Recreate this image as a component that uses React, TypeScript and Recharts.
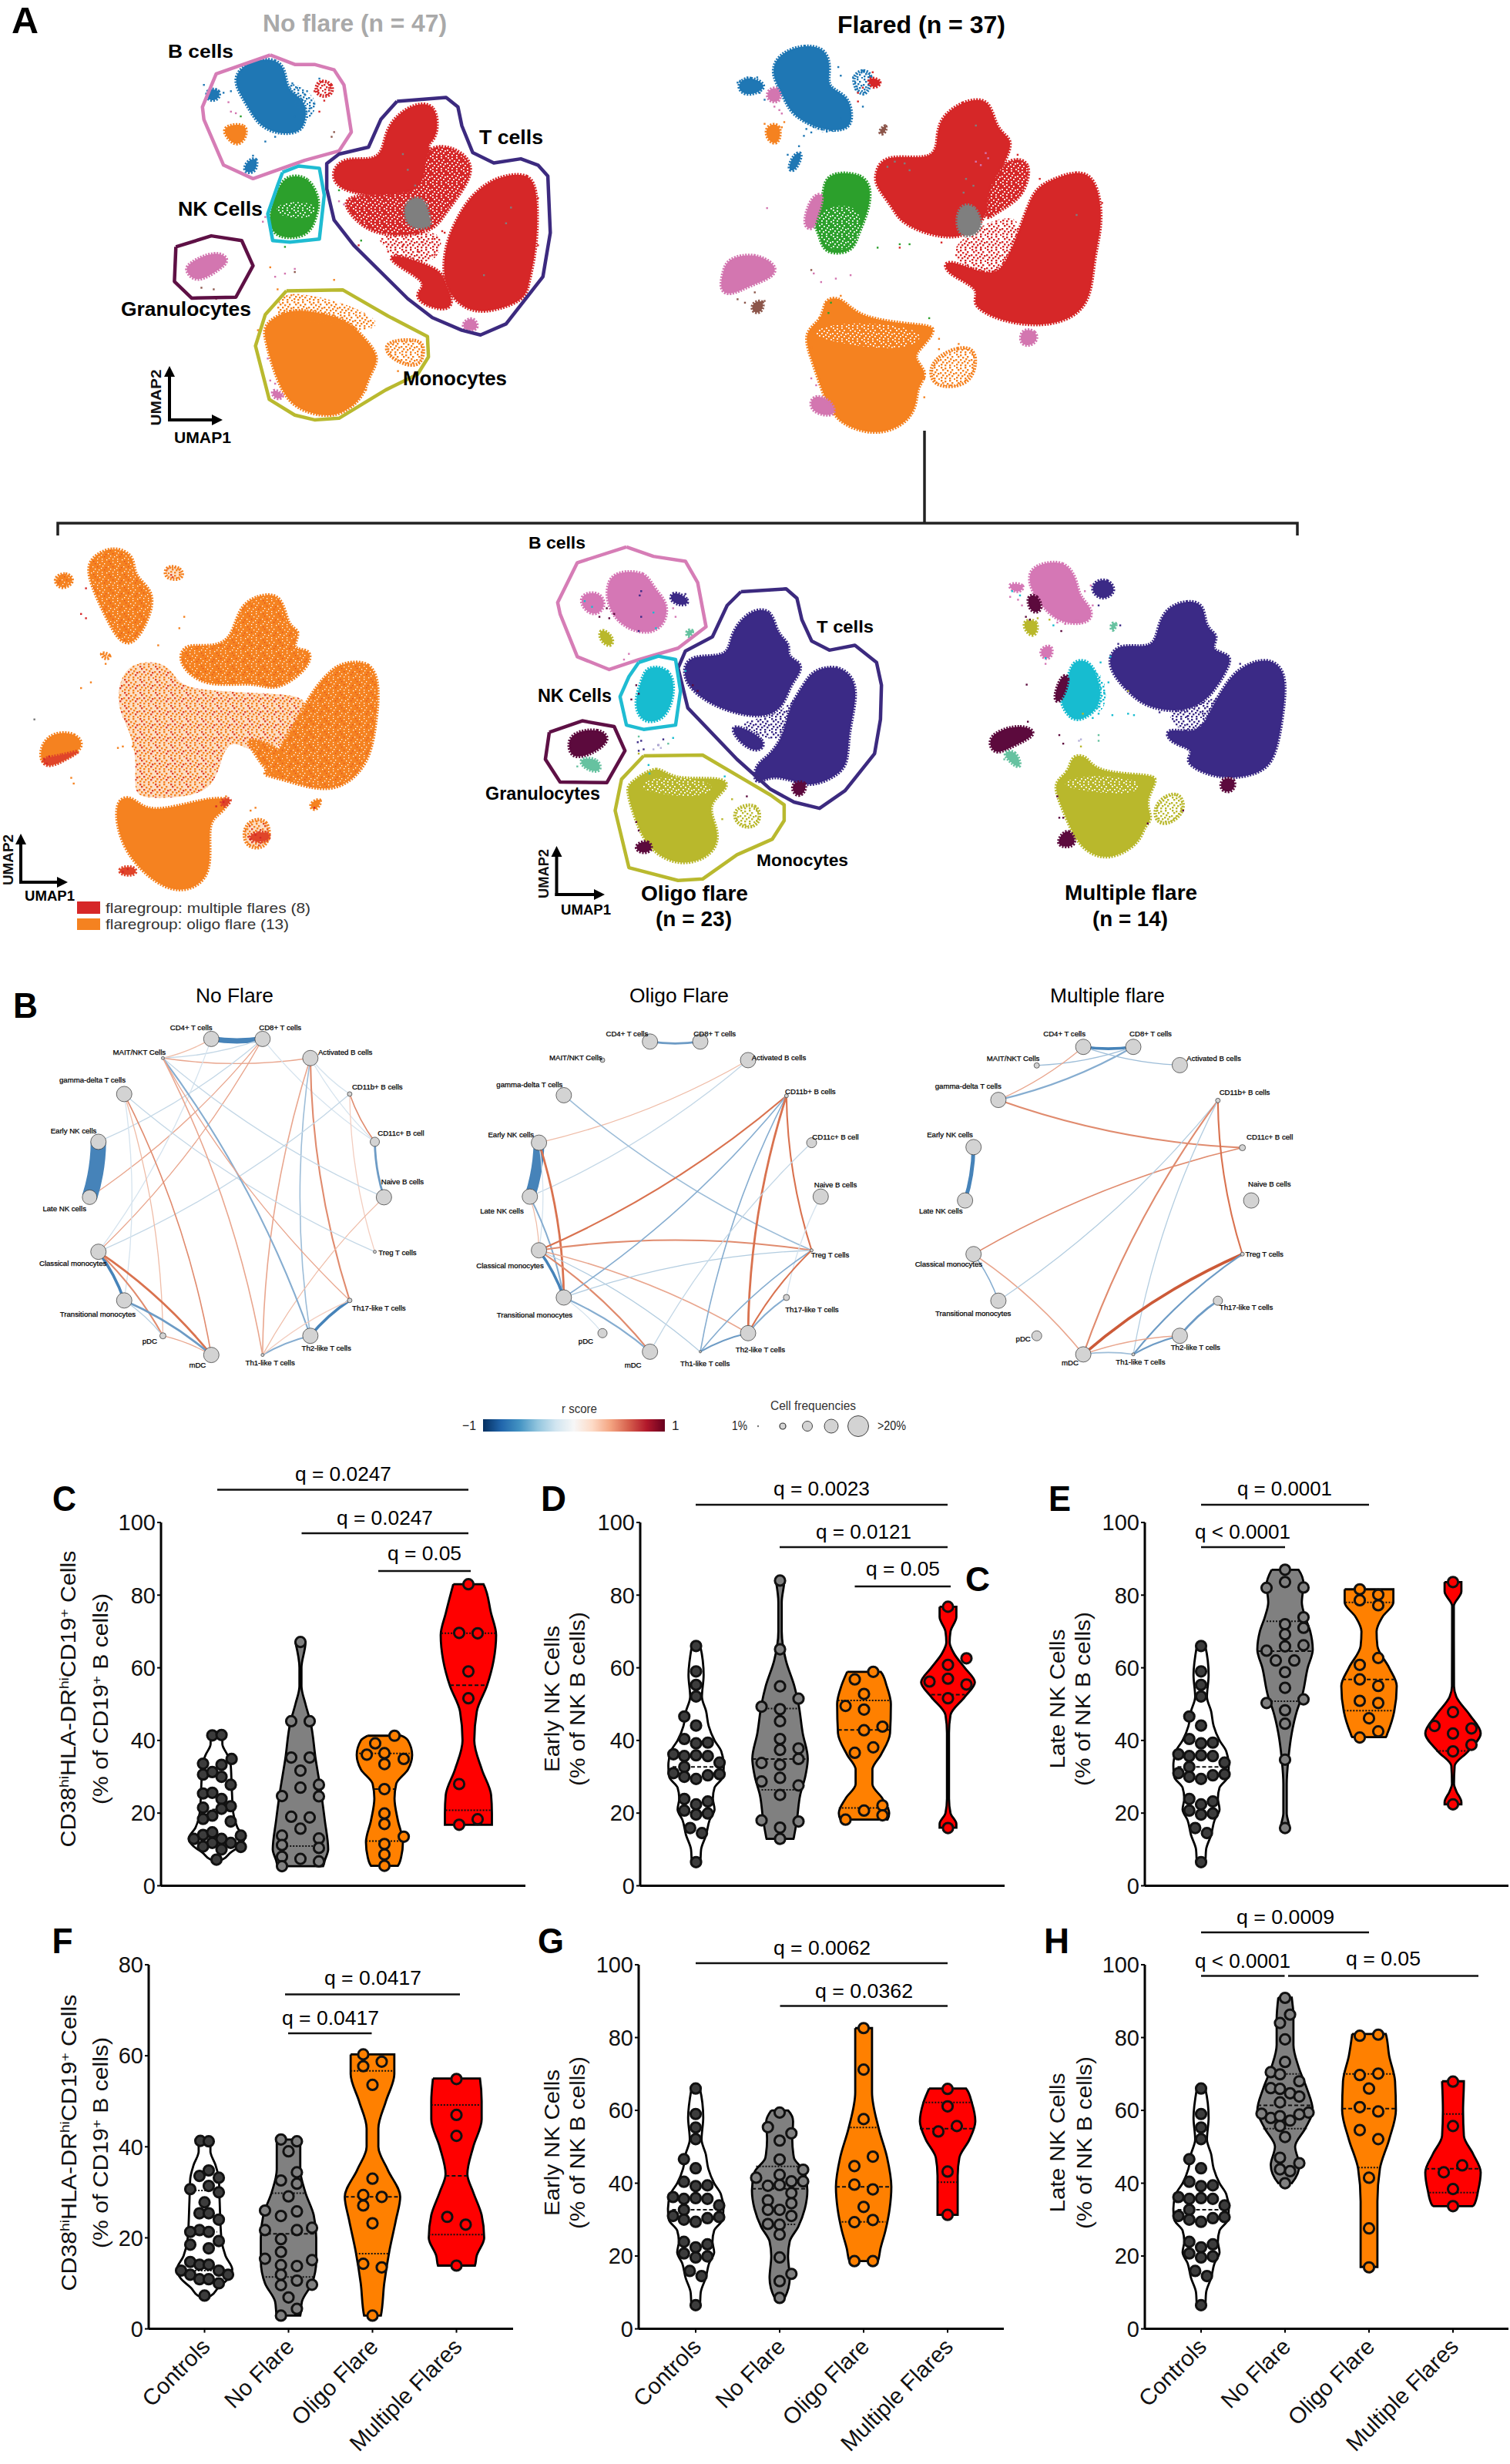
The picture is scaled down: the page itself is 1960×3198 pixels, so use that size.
import React from "react";
import { ScatterChart, Scatter, XAxis, YAxis } from "recharts";

const FONT = "'Liberation Sans', Arial, sans-serif";
const C_BLUE = "#1f77b4", C_RED = "#d62728", C_ORANGE = "#f58220", C_GREEN = "#2ca02c", C_PINK = "#d376b0", C_GRAY = "#7f7f7f", C_BROWN = "#8c564b";
const M_PINK = "#d577b5", M_NAVY = "#3b2a86", M_CYAN = "#17bcd0", M_OLIVE = "#b9b82c", M_MAROON = "#5c0a3d", M_TEAL = "#66c2a0", M_LAV = "#b5b0d8";

// ---------- UMAP clusters, in UMAP plot units ----------
const hullB1 = [[550,175],[600,205],[640,205],[680,222],[700,270],[715,420],[690,480],[620,510],[515,568],[455,525],[415,380],[412,340],[440,235]];
const hullT1 = [[808,322],[908,310],[932,340],[940,400],[962,485],[1005,518],[1060,505],[1095,525],[1115,560],[1120,740],[1105,880],[1060,970],[1030,1030],[978,1065],[940,1050],[880,1010],[830,950],[720,780],[680,700],[665,600],[665,520],[690,490],[750,468],[775,380]];
const hullNK1 = [[575,548],[608,528],[650,535],[660,620],[655,690],[650,760],[590,770],[555,765],[545,680],[565,590]];
const hullG1 = [[358,785],[430,750],[492,765],[515,845],[480,945],[390,948],[355,895]];
const hullM1 = [[583,925],[698,922],[790,1005],[870,1070],[872,1135],[850,1190],[785,1240],[690,1330],[640,1335],[600,1320],[548,1270],[520,1100],[540,1000]];
const a1Blue = [[510,190],[565,185],[582,230],[584,290],[625,320],[622,395],[605,425],[560,425],[525,395],[505,340],[485,290],[475,240]];
const a1BlueL = [[420,280],[450,285],[445,320],[420,320]];
const a1BlueSp = [[580,250],[625,285],[650,330],[625,400],[600,340]];
const a1RedS = [[645,250],[680,265],[675,310],[640,305]];
const a1OrS = [[452,400],[505,390],[500,445],[480,465],[460,435]];
const a1Tail = [[500,515],[525,495],[522,550],[495,550]];
const a1Green = [[580,555],[630,560],[652,640],[645,680],[630,755],[560,760],[545,700],[560,620]];
const a1GreenSp = [[560,640],[650,640],[640,700],[560,690]];
const a1Gran = [[380,838],[440,795],[470,825],[445,860],[400,900],[378,865]];
const a1RedUp = [[835,330],[890,325],[892,440],[865,460],[885,500],[875,605],[800,625],[700,615],[670,560],[695,500],[750,510],[780,490],[785,400]];
const a1RedSp = [[860,460],[925,465],[965,520],[950,590],[905,680],[885,730],[830,750],[760,745],[715,690],[690,620],[800,620],[870,600]];
const a1RedGap = [[760,745],[880,730],[905,760],[885,850],[800,815],[780,780]];
const a1Gray = [[820,635],[865,620],[875,700],[880,725],[825,730]];
const a1RedBig = [[1015,560],[1080,547],[1095,620],[1093,790],[1075,905],[1070,955],[985,1000],[935,975],[900,900],[905,770],[945,650],[975,600]];
const a1RedLow = [[790,800],[900,855],[905,900],[925,965],[905,990],[855,965],[845,930],[875,900],[795,835]];
const a1PinkT = [[940,1025],[965,1005],[977,1050],[945,1053]];
const a1Or = [[535,1030],[590,980],[650,995],[705,1015],[745,1080],[775,1140],[750,1195],[740,1265],[690,1325],[640,1320],[585,1285],[555,1170],[540,1080]];
const a1OrUp = [[570,930],[620,935],[685,955],[785,1020],[745,1065],[620,1015],[555,1015]];
const a1OrR = [[775,1085],[855,1075],[865,1110],[855,1175],[795,1145]];
const a1PinkLow = [[550,1230],[585,1260],[558,1275]];

const a2Blue = [[185,150],[225,130],[270,140],[280,200],[270,255],[315,275],[325,340],[315,380],[260,380],[200,335],[185,285],[160,220],[165,180]];
const a2BlueL = [[90,240],[115,220],[155,250],[120,278],[95,270]];
const a2BlueR = [[335,200],[370,210],[350,295],[320,240]];
const a2BlueSp = [[315,375],[260,395],[225,350],[205,335]];
const a2RedS = [[350,220],[390,235],[365,265]];
const a2PinkS = [[150,260],[175,250],[180,300],[150,295]];
const a2OrS = [[145,365],[180,355],[175,425],[150,410]];
const a2Tail = [[205,445],[225,440],[208,500],[190,495]];
const a2Brown = [[374,385],[396,355],[389,395]];
const a2Green = [[285,500],[345,505],[363,550],[355,620],[335,680],[325,735],[265,740],[257,680],[240,640],[265,580],[265,530]];
const a2GreenSp = [[262,600],[350,590],[335,730],[265,730],[250,650]];
const a2PinkThin = [[240,565],[270,560],[250,635],[245,670],[220,660]];
const a2Gran = [[70,750],[125,735],[170,770],[165,805],[115,830],[75,860],[53,845],[60,790]];
const a2BrownS = [[118,880],[145,870],[140,910],[120,910]];
const a2RedUp = [[505,340],[545,295],[605,280],[615,380],[655,405],[630,480],[605,560],[595,640],[550,695],[480,685],[420,645],[405,600],[370,540],[370,500],[390,445],[495,470],[495,390]];
const a2RedSp = [[645,455],[690,470],[675,560],[645,595],[610,625],[590,645],[605,520]];
const a2RedGap = [[600,640],[680,620],[640,780],[600,810],[520,750],[540,700]];
const a2Gray = [[535,595],[575,590],[595,675],[535,700]];
const a2RedBig = [[725,525],[780,495],[820,515],[835,640],[815,750],[810,865],[775,925],[710,950],[625,935],[560,885],[590,840],[510,795],[510,745],[600,805],[635,780],[675,620],[695,550]];
const a2PinkT = [[665,955],[700,960],[700,1000],[665,1010]];
const a2Or = [[220,965],[265,930],[265,865],[305,865],[335,925],[460,945],[500,950],[465,1010],[445,1040],[480,1085],[455,1125],[455,1175],[435,1230],[380,1265],[315,1245],[275,1195],[245,1060]];
const a2OrTop = [[225,970],[300,930],[490,955],[440,1025],[300,1000]];
const a2OrR = [[485,1045],[540,1005],[580,1015],[570,1115],[510,1130],[480,1105]];
const a2PinkLow = [[240,1145],[280,1160],[295,1215],[235,1200]];

const lfB = [[185,170],[230,130],[275,165],[270,235],[315,290],[305,380],[275,475],[245,475],[215,380],[175,230]];
const lfBL = [[105,245],[135,220],[155,255],[125,290]];
const lfBR = [[335,200],[370,205],[375,250],[335,250]];
const lfBS = [[200,500],[230,515],[215,535]];
const lfTUp = [[485,350],[520,305],[575,295],[585,420],[615,425],[590,500],[635,490],[630,560],[560,645],[520,605],[415,630],[360,540],[375,475],[420,485],[470,470]];
const lfTBig = [[700,540],[755,535],[773,620],[765,760],[750,905],[680,1005],[585,955],[540,935],[535,930],[590,790],[635,640],[675,565]];
const lfTLow = [[490,790],[590,850],[580,950],[540,920],[520,860]];
const lfGran = [[105,785],[155,785],[175,840],[125,885],[85,910],[80,840]];
const lfMono = [[230,1020],[270,1005],[300,1075],[420,1015],[475,1015],[450,1070],[420,1100],[435,1285],[380,1350],[320,1325],[245,1195]];
const lfMid = [[250,535],[345,535],[360,620],[420,640],[560,650],[640,660],[600,800],[530,880],[470,800],[450,880],[430,1010],[300,1020],[270,1000],[280,880],[260,760],[235,690]];
const lfRight = [[495,1095],[550,1080],[550,1195],[495,1195]];
const lfSmall = [[625,1035],[660,1010],[642,1070]];
const lfRed1 = [[240,1260],[275,1253],[280,1287],[245,1287]];
const lfRed2 = [[505,1140],[550,1130],[550,1170],[510,1170]];
const lfRed3 = [[445,1020],[477,1013],[455,1058]];
const lfRed4 = [[80,875],[125,868],[175,840],[125,890],[95,910]];

const hullBm = [[1275,135],[1330,168],[1395,185],[1420,260],[1437,415],[1380,490],[1300,530],[1240,565],[1175,520],[1140,370],[1135,330],[1175,190]];
const hullNKm = [[1300,540],[1340,518],[1375,530],[1385,640],[1375,760],[1310,775],[1275,760],[1262,660],[1280,590]];
const hullGm = [[1118,785],[1185,745],[1250,765],[1272,850],[1235,962],[1140,960],[1110,880]];
const hullMm = [[1310,868],[1430,865],[1568,1005],[1596,1040],[1596,1095],[1572,1160],[1500,1215],[1430,1300],[1380,1305],[1280,1260],[1252,1060],[1265,950]];
const hullTm = [[1508,292],[1600,282],[1622,315],[1632,390],[1652,465],[1688,497],[1740,480],[1784,540],[1794,620],[1792,740],[1780,860],[1720,990],[1668,1052],[1616,1030],[1568,985],[1500,880],[1400,700],[1380,560],[1395,500],[1450,450],[1480,340]];
const mPink = [[1255,220],[1315,220],[1330,280],[1360,330],[1355,405],[1320,445],[1265,415],[1235,340],[1235,260]];
const mPinkL = [[1180,300],[1220,290],[1235,340],[1212,380],[1185,350]];
const mNavyS = [[1370,285],[1405,320],[1395,345],[1360,325]];
const mOliveS = [[1220,415],[1250,450],[1245,490],[1220,465]];
const mTealS = [[1395,425],[1415,425],[1400,460]];
const mCyan = [[1315,550],[1365,560],[1375,640],[1355,745],[1305,755],[1290,680],[1305,610]];
const mGran = [[1165,785],[1220,770],[1245,810],[1208,860],[1165,880],[1155,830]];
const mTeal2 = [[1175,875],[1220,875],[1225,930],[1190,915]];
const mOlive = [[1285,960],[1340,895],[1365,955],[1475,940],[1485,980],[1435,1040],[1465,1130],[1455,1215],[1385,1260],[1315,1195],[1285,1050],[1275,980]];
const mOliveTop = [[1290,980],[1340,930],[1470,960],[1430,1020],[1340,1000]];
const mOliveR = [[1485,1055],[1545,1025],[1550,1115],[1505,1125]];
const mMaroonS = [[1290,1180],[1322,1160],[1330,1205],[1300,1210]];
const mNavyUp = [[1525,355],[1572,350],[1580,440],[1610,475],[1600,520],[1632,540],[1628,580],[1608,620],[1596,690],[1560,740],[1470,710],[1405,640],[1388,570],[1405,510],[1485,525],[1485,440]];
const mNavyBig = [[1655,565],[1705,550],[1736,590],[1745,660],[1725,800],[1727,905],[1690,950],[1648,975],[1615,955],[1568,935],[1535,975],[1535,900],[1565,870],[1595,800],[1605,700],[1635,620]];
const mNavyTail = [[1485,745],[1568,815],[1540,865],[1495,805]];
const mNavyGap = [[1560,735],[1600,700],[1640,620],[1610,700],[1600,800],[1568,820],[1490,750]];
const mNavySpot = [[1610,960],[1645,955],[1635,1010],[1615,1005]];

const a4Pink = [[675,195],[750,180],[780,250],[785,310],[820,350],[815,405],[740,405],[695,350],[665,290],[655,235]];
const a4PinkL = [[595,260],[655,265],[628,305]];
const a4Maroon = [[650,305],[680,300],[695,360],[662,370]];
const a4NavyS = [[825,255],[858,245],[883,290],[845,325],[815,290]];
const a4OliveS = [[640,390],[685,390],[675,455],[650,435]];
const a4TealS = [[865,400],[885,400],[868,440]];
const a4PinkTail = [[685,490],[720,475],[715,530],[690,525]];
const a4Cyan = [[765,530],[815,530],[840,620],[840,690],[805,735],[765,750],[730,665],[755,620]];
const a4CyanSp = [[810,535],[855,600],[855,700],[820,735]];
const a4MarThin = [[740,580],[765,585],[740,685],[717,675]];
const a4Gran = [[565,785],[640,755],[685,790],[622,830],[575,865],[555,830]];
const a4Teal = [[585,855],[625,845],[640,910],[622,905]];
const a4NavyUp = [[1005,350],[1060,320],[1105,335],[1105,420],[1145,445],[1115,500],[1175,510],[1165,560],[1125,650],[1085,695],[1030,715],[955,695],[915,650],[875,590],[857,530],[885,470],[975,495],[985,420]];
const a4NavyBig = [[1195,555],[1265,520],[1315,570],[1305,720],[1285,880],[1245,930],[1170,950],[1100,930],[1050,885],[1085,845],[1015,825],[1000,765],[1090,795],[1115,720],[1155,620]];
const a4NavyGap = [[1010,700],[1090,690],[1160,640],[1100,780],[1080,800],[1020,760]];
const a4MarSpot = [[1145,945],[1185,945],[1180,995],[1145,995]];
const a4Olive = [[715,960],[760,930],[765,865],[805,865],[825,925],[960,935],[990,945],[950,1030],[975,1090],[950,1115],[940,1175],[860,1240],[785,1195],[745,1060]];
const a4OliveTop = [[730,970],[790,930],[960,950],[930,1010],[790,990]];
const a4OliveR = [[980,1025],[1040,985],[1060,1060],[1010,1115],[975,1095]];
const a4MarLow = [[730,1160],[760,1115],[785,1185],[735,1190]];

const a1Stray: [string, number[][]][] = [
  [C_BLUE, [[415,270],[432,300],[422,305],[440,285],[455,295],[470,290],[595,265],[605,280],[625,290],[640,330],[630,345],[560,435],[540,450],[515,495],[510,530],[600,370],[650,250],[620,300]]],
  [C_RED, [[640,290],[655,260],[670,280],[660,320],[650,355],[730,780],[790,800],[820,780],[860,770],[900,735],[880,760],[930,720],[1095,630],[1090,700],[1095,780],[810,830],[850,800],[885,810],[905,740]]],
  [C_PINK, [[465,325],[470,355],[480,360],[690,640],[700,650],[540,690],[535,705],[600,855],[560,880],[580,870],[545,1140],[550,1210],[560,1220]]],
  [C_BROWN, [[680,420],[675,435],[440,950],[410,915],[435,920],[600,865]]],
  [C_GREEN, [[735,765],[580,785],[590,770],[690,605],[490,370]]],
  [C_ORANGE, [[680,890],[550,850],[565,920],[525,1050],[810,1180],[745,1240]]],
  [C_GRAY, [[820,490],[830,540],[845,590],[870,650],[1030,710],[985,875],[1040,660]]],
];
const a2Stray: [string, number[][]][] = [
  [C_BLUE, [[95,235],[110,225],[130,225],[90,240],[135,270],[145,290],[295,195],[300,220],[325,225],[345,205],[330,260],[345,310],[230,375],[240,385],[225,395],[300,345],[215,425],[192,450]]],
  [C_RED, [[365,210],[378,245],[335,270],[335,295],[345,255],[420,720],[505,705],[585,725],[575,720],[660,450],[705,520],[832,590],[825,680]]],
  [C_PINK, [[165,310],[175,320],[180,330],[150,605],[245,795],[260,820],[290,810],[320,800],[240,1100],[250,1120],[595,445],[585,480],[600,460],[575,470]]],
  [C_BROWN, [[90,870],[105,880],[125,850],[145,875],[240,785]]],
  [C_GREEN, [[375,720],[420,710],[440,710],[480,925],[280,880],[275,910]]],
  [C_ORANGE, [[145,360],[185,355],[165,375],[180,370],[240,1010],[270,880],[300,860],[470,1100],[470,1155],[540,1000],[500,985],[500,1015]]],
  [C_GRAY, [[410,470],[395,485],[440,495],[430,475],[555,520],[570,540],[550,560],[575,365],[780,625]]],
];
const lfStray: [string, number[][]][] = [
  [C_ORANGE, [[165,630],[185,610],[375,380],[365,420],[322,480],[215,545],[150,965],[145,945],[240,840],[250,835],[270,835],[460,1010],[520,1050],[510,1060]]],
  [C_RED, [[175,280],[165,370],[175,385],[260,1265],[250,1275],[520,1145],[530,1155],[510,1160],[455,1030],[440,1045],[640,1050],[90,880],[95,895],[100,870]]],
  ["#777777", [[70,740]]],
];
const mStray: [string, number[][]][] = [
  [M_PINK, [[1280,510],[1270,530],[1195,330],[1370,350],[1375,380]]],
  [M_NAVY, [[1298,820],[1305,815],[1340,830],[1350,810],[1300,850],[1310,845],[1305,290],[1302,305],[1305,380],[1300,430],[1395,300]]],
  [M_CYAN, [[1190,325],[1205,345],[1330,365],[1370,805],[1320,900],[1322,930],[1395,570],[1475,940],[1335,420]]],
  [M_MAROON, [[1235,350],[1250,370],[1220,380],[1240,385],[1295,620],[1300,650],[1285,670],[1295,1100],[1300,1130],[1520,1010],[1410,620],[1420,640]]],
  [M_LAV, [[1340,830],[1345,840],[1330,845]]],
  [M_OLIVE, [[1300,860],[1460,960],[1490,1020],[1470,1090]]],
  [M_TEAL, [[1300,800],[1360,825],[1175,905]]],
];
const a4Stray: [string, number[][]][] = [
  [M_PINK, [[610,310],[630,320],[640,340],[800,290],[815,270],[820,340],[730,400],[750,405],[780,395],[700,545]]],
  [M_NAVY, [[890,410],[850,310],[835,340],[1195,545],[885,475],[990,715],[1060,730],[1100,720]]],
  [M_CYAN, [[720,410],[615,290],[635,305],[840,540],[860,610],[850,650],[870,725],[910,720],[925,725],[820,735],[700,525],[865,520],[835,720]]],
  [M_MAROON, [[650,380],[660,390],[740,430],[652,618],[730,1010],[735,1085],[745,1085],[960,1105],[1050,1060],[735,795],[745,825],[655,748]]],
  [M_OLIVE, [[710,390],[680,385],[795,720],[790,835],[910,640]]],
  [M_TEAL, [[835,795],[835,815],[595,880]]],
  [M_LAV, [[790,810],[785,815]]],
];

// ---------- correlation networks ----------
const nodeNames = ["CD4+ T cells","CD8+ T cells","Activated B cells","CD11b+ B cells","CD11c+ B cell","Naive B cells","Treg T cells","Th17-like T cells","Th2-like T cells","Th1-like T cells","mDC","pDC","Transitional monocytes","Classical monocytes","Late NK cells","Early NK cells","gamma-delta T cells","MAIT/NKT Cells"];
const noFlareX = [672,835,987,1112,1192,1221,1192,1112,987,835,672,518,395,313,285,313,395,518];
const noFlareY = [231,231,296,418,580,768,953,1118,1238,1303,1303,1238,1118,953,768,580,418,296];
const noFlareFreq = [10,10,10,3,6,10,2,3,10,2,10,4,10,10,9.5,10,10,2];
const noFlareLabelX = [608,891,1098,1200,1275,1280,1264,1205,1038,859,628,476,311,232,205,234,294,443];
const noFlareLabelY = [191,191,277,394,549,715,956,1144,1280,1330,1338,1255,1163,992,805,541,371,276];
const oligoX = [695,855,1007,1129,1209,1238,1209,1129,1007,855,695,544,421,342,313,342,421,544];
const oligoY = [240,240,303,424,583,766,948,1108,1229,1292,1292,1229,1108,948,766,583,422,303];
const oligoFreq = [10,10,10,2.5,6.5,10,2,4,10,1.5,10,6,10,10,10,10,10,3];
const oligoLabelX = [622,901,1105,1205,1285,1285,1268,1210,1046,870,641,491,328,250,224,253,312,459];
const oligoLabelY = [212,212,294,409,563,725,963,1148,1284,1331,1337,1255,1166,999,814,555,386,294];
const multiX = [603,762,910,1031,1109,1137,1109,1031,910,762,603,455,333,254,227,254,333,455];
const multiY = [258,258,320,440,600,779,961,1119,1238,1301,1301,1238,1119,961,779,598,438,321];
const multiFreq = [10,10,10,3,4,10,2.5,6,10,2,10,6.5,10,10,10,10,10,3.5];
const multiLabelX = [543,817,1018,1116,1196,1195,1179,1121,960,785,561,412,253,175,150,179,237,380];
const multiLabelY = [214,214,296,411,563,723,960,1142,1277,1325,1330,1248,1162,995,813,555,390,296];

// [node a, node b, r score]
const noFlareEdges = [[0,1,-.85],[0,17,.3],[1,17,-.25],[17,2,.35],[1,15,-.25],[1,14,.35],[1,13,.35],[0,13,-.2],[1,4,-.2],[2,3,-.2],[2,4,-.2],[2,9,.4],[2,8,-.4],[2,7,.5],[3,4,.45],[3,6,.25],[3,13,-.25],[4,5,-.6],[5,17,-.25],[5,9,.3],[16,6,-.25],[16,12,-.2],[16,11,.3],[16,10,.45],[17,8,-.5],[17,9,.4],[17,7,.35],[7,8,-.7],[8,9,-.5],[7,9,.25],[15,14,-.95],[13,12,-.7],[13,10,.6],[13,11,.5],[12,10,-.6],[12,11,-.3],[11,10,.35]];
const oligoEdges = [[0,1,-.6],[2,15,.3],[2,14,-.25],[16,6,-.4],[15,14,-.9],[15,13,-.2],[15,12,.6],[14,13,.3],[14,12,-.5],[13,12,-.7],[13,3,.55],[13,6,.5],[13,8,.4],[13,10,.5],[13,9,-.3],[12,3,-.45],[12,6,-.3],[12,10,-.5],[12,11,-.2],[3,9,-.45],[3,8,.6],[3,6,.55],[4,10,-.25],[5,7,-.2],[6,9,-.45],[6,8,.55],[7,8,-.5],[8,9,-.55]];
const multiEdges = [[0,1,-.7],[17,1,-.35],[16,0,.35],[16,1,-.5],[0,2,-.35],[16,4,.5],[13,4,.45],[15,14,-.75],[13,12,-.45],[13,10,.4],[12,3,-.3],[10,3,.5],[3,9,-.3],[3,6,.55],[10,6,.7],[9,6,-.55],[10,8,.4],[10,9,-.4],[9,8,-.55],[8,7,-.6]];
const colorbarStops = ["#053061","#2166ac","#4393c3","#92c5de","#d1e5f0","#f7f7f7","#fddbc7","#f4a582","#d6604d","#b2182b","#67001f"];

// ---------- violins: points are [offset from category, value], profiles are [value, half width] ----------
const categories = ["Controls","No Flare","Oligo Flare","Multiple Flares"];
const fillControls = "#ffffff", fillNoFlare = "#808080", fillOligo = "#ff8000", fillMulti = "#ff0000";
const dotControls = "#3c3c3c", dotNoFlare = "#808080", dotOligo = "#ff8000", dotMulti = "#ff0000";

const cControls = [[-.05,41.4],[.06,41.5],[.18,34.9],[-.16,33.6],[.06,33.3],[-.16,30.6],[-.05,31.3],[.06,30],[.17,27.8],[-.16,25.4],[-.05,25.6],[.06,23.9],[-.16,21.5],[.17,21.9],[.06,21.2],[-.05,19.3],[-.16,18.4],[.17,17.7],[-.16,14],[-.05,14.7],[.29,13.8],[-.27,12.9],[.06,12.9],[-.05,11.8],[.17,11.8],[-.16,10.8],[.29,10.7],[.06,10],[0,7.2]];
const cControlsShape = [[41.5,.07],[39,.07],[36,.13],[33,.17],[28,.18],[20,.2],[16,.25],[13,.33],[11,.28],[9,.16],[7.2,.07]];
const cNoFlare = [[0,67.1],[-.11,45.3],[.11,45.3],[-.11,35.3],[.11,35.3],[0,31.7],[0,27],[.22,27.8],[-.22,24.7],[.22,24.6],[-.11,19],[.11,18.8],[0,15.7],[-.22,13.8],[.22,13],[-.22,11.2],[.22,10.4],[-.22,8],[0,7.4],[.22,6.7],[-.22,5.4]];
const cNoFlareShape = [[67,.06],[60,.012],[55,.012],[50,.06],[45,.12],[35,.18],[25,.25],[18,.29],[10,.33],[7,.29],[5.4,.27]];
const cOligo = [[.12,41.3],[-.11,39.2],[-.21,36.1],[0,36.5],[.23,34.9],[0,33.5],[0,26.6],[0,19.9],[0,17],[.23,13.5],[0,11.5],[0,8.6],[0,5.5]];
const cOligoShape = [[41.3,.2],[40,.28],[36,.33],[32,.28],[28,.14],[24,.12],[18,.16],[12,.22],[8,.2],[5.5,.16]];
const cMulti = [[0,83],[-.11,69.6],[.11,69.5],[0,59],[0,51.6],[-.11,28],[.11,18.3],[-.11,16.8]];
const cMultiShape = [[83,.18],[75,.27],[69,.33],[62,.3],[55,.22],[48,.1],[40,.07],[32,.16],[25,.27],[20,.28],[16.8,.28]];

const nkControls = [[0,66],[0,59],[0,55.3],[0,52.1],[-.14,46.6],[0,44.1],[-.14,40.4],[.14,39.4],[0,39.2],[-.27,36.2],[-.14,35.7],[0,35.9],[.14,35.7],[.28,33.9],[-.14,32.7],[-.27,31],[.28,30.7],[-.14,30],[.14,30.4],[0,29.4],[-.14,23.9],[.14,23.2],[0,22.4],[-.14,20.7],[0,19.6],[.14,19.9],[-.07,15.9],[.07,14.5],[0,6.5]];
const nkControlsShape = [[66,.05],[58,.09],[52,.07],[48,.12],[44,.15],[40,.22],[37,.3],[33,.33],[30,.32],[27,.22],[24,.2],[21,.22],[18,.16],[14,.12],[10,.06],[6.5,.05]];
const dNoFlare = [[0,84],[0,65.1],[0,54.9],[.22,51.5],[-.22,49.3],[0,48.6],[0,45.3],[0,40.4],[.22,37.8],[0,37.4],[.22,34.9],[-.22,33.8],[0,33.3],[0,29.7],[-.22,28.7],[.22,27.6],[0,25],[-.22,18],[.22,17.7],[0,16],[0,12.9]];
const dNoFlareShape = [[84,.05],[78,.02],[70,.02],[62,.07],[55,.17],[50,.22],[42,.27],[35,.33],[30,.3],[25,.24],[18,.2],[14,.17],[12.9,.16]];
const dOligo = [[.11,58.9],[-.11,56.8],[0,52.8],[-.22,49.5],[0,48.5],[.22,43.8],[0,42.8],[.11,38.1],[-.11,36.6],[.22,22.1],[0,20.7],[.22,19.4],[-.22,18.2]];
const dOligoShape = [[58.9,.2],[55,.27],[50,.32],[42,.31],[36,.2],[32,.1],[28,.1],[24,.22],[20,.3],[18.2,.28]];
const dMulti = [[0,76.8],[.22,62.6],[0,60.8],[0,57],[-.22,56.2],[.22,55.4],[0,51.6],[0,15.9]];
const dMultiShape = [[76.8,.1],[74,.1],[70,.03],[67,.02],[64,.07],[60,.2],[56,.32],[52,.2],[47,.03],[42,.012],[24,.012],[20,.03],[17,.1],[16,.1]];

const eNoFlare = [[0,87],[0,83.6],[-.22,82],[.22,82.1],[.22,73.9],[0,72],[.22,71],[0,69.2],[.22,66.2],[0,65.9],[-.22,64.7],[-.11,62],[.11,62],[0,58.8],[0,54.5],[-.22,50.3],[.22,51.3],[0,48.3],[0,44.6],[0,34.7],[0,15.9]];
const eNoFlareShape = [[87,.16],[83,.22],[78,.2],[74,.24],[70,.3],[65,.33],[60,.27],[52,.2],[48,.14],[42,.08],[35,.04],[28,.02],[20,.02],[16,.05]];
const eOligo = [[-.11,81.6],[-.11,78.6],[.11,80.1],[.11,77.2],[.11,62.7],[-.11,60.8],[-.11,56.8],[.11,55],[-.11,50.9],[.11,50.3],[0,46.1],[.11,42.5],[-.11,40.8]];
const eOligoShape = [[81.6,.29],[78,.29],[74,.16],[70,.09],[66,.1],[60,.24],[55,.33],[48,.3],[42,.22],[40.9,.2]];
const eMulti = [[0,83.6],[0,47.8],[-.22,44],[.22,43.3],[0,41.9],[.22,38.8],[0,37],[0,22.4]];
const eMultiShape = [[83.6,.1],[81,.1],[77,.01],[55,.012],[52,.04],[47,.2],[42,.33],[37,.18],[33,.02],[28,.012],[26,.04],[23,.1],[22.4,.1]];

const fControls = [[-.05,41.3],[.05,41.2],[.05,34.8],[-.06,33.6],[.17,33.2],[-.17,30.7],[.05,31.4],[.17,30],[0,27.8],[-.06,25.4],[.05,25.4],[.17,24],[-.06,21.7],[.05,21.3],[-.17,21.3],[.17,19.3],[-.17,18.5],[.05,17.7],[-.17,14.7],[-.06,14.1],[.05,14.1],[-.28,12.8],[.17,12.8],[-.17,11.9],[.28,11.9],[-.06,10.9],[.05,10.9],[.17,10],[0,7.3]];
const fNoFlare = [[-.09,41.6],[.1,41.2],[0,39],[.1,34.4],[-.09,32.6],[.1,31.9],[0,29.1],[-.28,26],[.1,25.8],[-.09,24.8],[-.28,21.7],[.1,21.7],[.28,22.2],[-.09,19.7],[-.09,16.9],[-.28,15.4],[.28,15.1],[-.09,14],[.1,13.8],[-.09,11.9],[.1,10.6],[-.09,9.6],[.28,9.7],[0,6.9],[.1,4.4],[-.09,2.9]];
const fNoFlareShape = [[41.6,.14],[35,.14],[30,.2],[25,.3],[20,.33],[15,.33],[10,.28],[6,.16],[2.9,.14]];
const fOligo = [[-.11,60.3],[-.11,57.7],[.11,58.7],[0,53.6],[0,33],[-.11,29.4],[.11,29],[-.11,27.1],[0,23.2],[-.11,14.3],[.11,13.5],[0,2.9]];
const fOligoShape = [[60.3,.26],[56,.26],[50,.16],[44,.07],[40,.07],[35,.18],[29,.33],[24,.28],[17,.2],[10,.14],[2.9,.1]];
const fMulti = [[0,54.9],[0,47],[0,42.4],[-.11,24.6],[.11,22.9],[0,13.9]];
const fMultiShape = [[55,.28],[50,.3],[46,.3],[40,.2],[34,.13],[30,.2],[25,.3],[20,.33],[16,.24],[13.9,.22]];

const gNoFlare = [[0,59.4],[-.14,55.4],[.14,53.7],[0,51.7],[0,46.5],[.28,43.7],[-.28,41.5],[0,42.3],[-.14,39.3],[0,39.5],[.14,40.5],[.28,40.5],[.14,37.3],[-.14,35.3],[.14,34.5],[-.14,32.7],[0,32.7],[.14,31],[-.14,28.8],[0,28.6],[0,25.9],[0,19.6],[.14,15.1],[0,13.1],[0,8.5]];
const gNoFlareShape = [[60,.1],[57,.16],[52,.15],[47,.17],[43,.3],[38,.33],[33,.3],[28,.22],[24,.12],[20,.1],[14,.12],[8.5,.06]];
const gOligo = [[0,82.6],[0,71.2],[0,57.6],[.11,47.3],[-.11,44.7],[-.11,39.6],[.11,38.3],[0,33.5],[-.11,29.3],[.11,29.9],[-.11,18.6],[.11,18.6]];
const gOligoShape = [[82.6,.1],[75,.1],[65,.1],[55,.18],[47,.28],[39,.33],[33,.31],[27,.26],[22,.2],[18.6,.17]];
const gMulti = [[0,65.9],[0,61.1],[.11,55.7],[-.11,54.2],[0,43.2],[0,31.3]];
const gMultiShape = [[66,.22],[62,.29],[57,.33],[52,.26],[47,.14],[42,.12],[35,.12],[31.3,.12]];

const hNoFlare = [[0,90.9],[.06,86.3],[-.06,84],[0,79.5],[0,73.3],[-.17,70.5],[-.06,69.9],[.17,68],[-.17,66.1],[-.06,65.9],[.06,64.7],[.17,63.8],[-.06,62.2],[.28,59.4],[-.28,59.1],[.17,58.9],[-.17,57.9],[-.06,58.4],[.06,57.2],[-.06,55.7],[0,52.7],[-.06,47],[.17,45.5],[-.06,43.8],[.06,43.3],[0,40]];
const hNoFlareShape = [[91,.08],[85,.1],[78,.1],[72,.16],[66,.26],[60,.33],[55,.24],[50,.12],[45,.17],[40,.08]];
const hOligo = [[-.11,80.5],[.11,80.8],[-.11,69.7],[.11,70.1],[0,66],[-.11,60.9],[.11,59.7],[-.11,54.6],[.11,52.1],[0,41.5],[0,27.6],[0,16.9]];
const hOligoShape = [[81,.2],[75,.24],[68,.31],[60,.32],[52,.24],[44,.13],[35,.1],[25,.1],[17,.1]];
const hMulti = [[0,67.9],[0,55.7],[.11,44.9],[-.11,43],[0,38.4],[0,33.7]];
const hMultiShape = [[68,.13],[60,.12],[53,.13],[48,.24],[43,.33],[38,.3],[34,.25],[33.7,.23]];

// quartile lines: [value, half width, 0 dotted / 1 dashed]
const qC = [[[30.4,.05,0],[21,.05,1]],[[10.9,.2,0]],[[36.4,.3,0],[26.6,.12,1],[12.3,.22,0]],[[69.5,.32,0],[55.2,.22,1],[20.8,.27,0]]];
const qD = [[[32.7,.28,1]],[[48.8,.22,0],[34.9,.33,1],[26.4,.22,0]],[[51,.31,0],[42.9,.31,1],[21.4,.3,0]],[[52.6,.2,1]]];
const qE = [[[32.7,.28,1]],[[72.8,.22,0],[64.6,.32,1],[50.8,.2,0]],[[78,.28,0],[56.8,.32,1],[48.2,.3,0]],[[37.1,.2,0]]];
const qF = [[[30.4,.15,0],[21.3,.15,1],[12.8,.3,0]],[[29.8,.2,0],[20.9,.33,1],[11.4,.31,0]],[[56.7,.26,0],[29,.33,1],[16.5,.2,0]],[[49.2,.3,0],[33.6,.13,1],[20.7,.33,0]]];
const qG = [[[32.7,.28,1]],[[44.6,.28,0],[38.5,.33,1],[28.7,.2,0]],[[55.3,.16,0],[39,.33,1],[29.4,.26,0]],[[62.2,.3,0],[55,.33,1],[40.3,.12,0]]];
const qH = [[[32.7,.28,1]],[[70,.17,0],[61.4,.33,1],[55,.26,0]],[[70,.31,0],[60.5,.32,1],[44.3,.13,0]],[[59,.12,0],[44,.33,1],[37.4,.28,0]]];

const ticks100 = [0,20,40,60,80,100];
const ticks80 = [0,20,40,60,80];
const catTicks = [1,2,3,4];

// ---------- helpers ----------
const NoDot = () => <g />;
const toXY = (pts: number[][]) => pts.map(([x, y]) => ({ x, y }));
const closed = (pts: number[][]) => toXY([...pts, pts[0]]);

const blob = (key: string, pts: number[][], fill: string, edge?: string) => (
  <Scatter key={key} data={toXY(pts)} isAnimationActive={false} shape={NoDot}
    line={{ fill, stroke: edge || fill, strokeWidth: edge === "none" ? 0 : 4.5, strokeDasharray: "2 1.6" }} lineJointType="basisClosed" />
);
const hull = (key: string, pts: number[][], stroke: string) => (
  <Scatter key={key} data={closed(pts)} isAnimationActive={false} shape={NoDot}
    line={{ fill: "none", stroke, strokeWidth: 4.5, strokeLinejoin: "round" }} lineJointType="linear" />
);
const strays = (groups: [string, number[][]][], prefix: string) =>
  groups.map(([color, pts], i) => (
    <Scatter key={prefix + i} data={toXY(pts)} isAnimationActive={false}
      shape={(p: any) => <rect x={p.cx - 1.2} y={p.cy - 1.2} width={2.4} height={2.4} fill={color} />} />
  ));

function Crop({ x, y, w, h, unitsX, children }: any) {
  return (
    <div style={{ position: "absolute", left: x, top: y }}>
      <ScatterChart width={w} height={h} margin={{ top: 0, right: 0, bottom: 0, left: 0 }}>
        <XAxis type="number" dataKey="x" domain={[0, unitsX]} hide />
        <YAxis type="number" dataKey="y" domain={[0, 1568]} reversed hide />
        {children}
      </ScatterChart>
    </div>
  );
}

// ---------- network ----------
function edgeColor(r: number) {
  const a = Math.abs(r);
  if (r < 0) {
    if (a <= .2) return "#d5e3ee";
    if (a <= .25) return "#c3d7e6";
    if (a <= .3) return "#b3cde0";
    if (a <= .4) return "#9dbdd8";
    if (a <= .5) return "#86add0";
    if (a <= .6) return "#6d9bc5";
    return "#4683b9";
  }
  if (a <= .25) return "#f3cdbf";
  if (a <= .3) return "#efbca7";
  if (a <= .4) return "#e9a68e";
  if (a <= .5) return "#e08b6e";
  if (a <= .6) return "#d9724f";
  return "#cc5a38";
}
function edgeWidth(r: number) {
  const a = Math.abs(r);
  if (a >= .95) return 20;
  if (a >= .9) return 14;
  if (a >= .85) return 7;
  if (a >= .75) return 5;
  if (a >= .7) return 3.6;
  if (a >= .6) return 2.8;
  if (a >= .5) return 2.1;
  if (a >= .4) return 1.6;
  return 1.3;
}
function Network({ left, nodesX, nodesY, freq, labelX, labelY, edges }: any) {
  const w = 640, h = 600;
  const sx = w / 1568, sy = h / 1568;
  const cxPx = ((Math.min(...nodesX) + Math.max(...nodesX)) / 2) * sx;
  const cyPx = ((Math.min(...nodesY) + Math.max(...nodesY)) / 2) * sy;
  const nodes = nodesX.map((x: number, i: number) => ({ x, y: nodesY[i], r: freq[i] }));
  const labels = labelX.map((x: number, i: number) => ({ x, y: labelY[i], name: nodeNames[i] }));
  return (
    <div style={{ position: "absolute", left, top: 1260 }}>
      <ScatterChart width={w} height={h} margin={{ top: 0, right: 0, bottom: 0, left: 0 }}>
        <XAxis type="number" dataKey="x" domain={[0, 1568]} hide />
        <YAxis type="number" dataKey="y" domain={[0, 1568]} reversed hide />
        {edges.map(([a, b, r]: number[], i: number) => (
          <Scatter key={i} data={[nodes[a], nodes[b]]} isAnimationActive={false} shape={NoDot}
            line={(p: any) => {
              const [s, t] = p.points;
              const mx = (s.x + t.x) / 2, my = (s.y + t.y) / 2;
              const len = Math.hypot(t.x - s.x, t.y - s.y);
              let nx = -(t.y - s.y) / len, ny = (t.x - s.x) / len;
              if ((cxPx - mx) * nx + (cyPx - my) * ny < 0) { nx = -nx; ny = -ny; }
              const k = 0.075 * len;
              return <path d={`M${s.x},${s.y}Q${mx + nx * k},${my + ny * k} ${t.x},${t.y}`} fill="none" stroke={edgeColor(r)} strokeWidth={edgeWidth(r)} />;
            }} />
        ))}
        <Scatter data={nodes} isAnimationActive={false}
          shape={(p: any) => <circle cx={p.cx} cy={p.cy} r={p.payload.r} fill="#d3d3d3" stroke="#444" strokeWidth={0.8} />} />
        <Scatter data={labels} isAnimationActive={false}
          shape={(p: any) => <text x={p.cx} y={p.cy + 3.5} textAnchor="middle" fontFamily={FONT} fontSize={9.6} fill="#000" stroke="#000" strokeWidth={0.25}>{p.payload.name}</text>} />
      </ScatterChart>
    </div>
  );
}

// ---------- violin panel ----------
function outline(center: number, shape: number[][]) {
  const left = shape.map(([v, w]) => ({ x: center - w, y: v }));
  const right = [...shape].reverse().map(([v, w]) => ({ x: center + w, y: v }));
  return [...left, ...right, left[0]];
}
const CatTick = (p: any) => (
  <text transform={`translate(${p.x + 9},${p.y + 18}) rotate(-45)`} textAnchor="end" fontFamily={FONT} fontSize={29.5} fill="#111">{categories[p.payload.value - 1]}</text>
);
function ViolinPanel({ axisX, endX, topY, botY, cat1X, yMax, ticks, showNames, series, shapes, quarts, dots }: any) {
  const yAxisW = 70, topPad = 20, spacing = 109;
  const xAxisH = showNames ? 175 : 20;
  const fills = [fillControls, fillNoFlare, fillOligo, fillMulti];
  const xMin = 1 - (cat1X - axisX) / spacing, xMax = 1 + (endX - cat1X) / spacing;
  return (
    <div style={{ position: "absolute", left: axisX - yAxisW, top: topY - topPad }}>
      <ScatterChart width={endX - axisX + yAxisW} height={botY - topY + topPad + xAxisH}
        margin={{ top: topPad, right: 0, bottom: 0, left: 0 }}>
        <XAxis type="number" dataKey="x" domain={[xMin, xMax]} ticks={catTicks} interval={0} height={xAxisH}
          axisLine={{ stroke: "#000", strokeWidth: 3 }} tickLine={{ stroke: "#000", strokeWidth: 2 }} tickSize={5}
          tick={showNames ? CatTick : false as any} />
        <YAxis type="number" dataKey="y" domain={[0, yMax]} ticks={ticks} interval={0} width={yAxisW}
          axisLine={{ stroke: "#000", strokeWidth: 3 }} tickLine={{ stroke: "#000", strokeWidth: 2 }} tickSize={5}
          tick={{ fontFamily: FONT, fontSize: 29, fill: "#111" }} />
        {shapes.map((shape: number[][], i: number) => (
          <Scatter key={"v" + i} data={outline(i + 1, shape)} isAnimationActive={false} shape={NoDot}
            line={{ fill: fills[i], stroke: "#000", strokeWidth: 2.8 }} lineJointType="monotoneY" />
        ))}
        {quarts.flatMap((rows: number[][], i: number) => rows.map(([v, w, dash], j: number) => (
          <Scatter key={`q${i}-${j}`} data={[{ x: i + 1 - w, y: v }, { x: i + 1 + w, y: v }]} isAnimationActive={false} shape={NoDot}
            line={{ stroke: "#111", strokeWidth: 2, strokeDasharray: dash ? "5 3" : "2 2" }} lineJointType="linear" />
        )))}
        {series.map((pts: number[][], i: number) => (
          <Scatter key={"p" + i} data={pts.map(([o, v]) => ({ x: i + 1 + o, y: v }))} isAnimationActive={false}
            shape={(p: any) => <circle cx={p.cx} cy={p.cy} r={6.6} fill={dots[i]} stroke="#111" strokeWidth={3} />} />
        ))}
      </ScatterChart>
    </div>
  );
}
const DOTS = [dotControls, dotNoFlare, dotOligo, dotMulti];

// ---------- text / decoration ----------
function T({ x, y, w, size, weight, fill, children }: any) {
  return (
    <text x={x} y={y} textLength={w} lengthAdjust="spacingAndGlyphs" fontFamily={FONT} fontSize={size}
      fontWeight={weight || "normal"} fill={fill || "#000"}>{children}</text>
  );
}
function V({ x, y, len, size, weight, children }: any) {
  return (
    <text transform={`translate(${x},${y}) rotate(-90)`} textAnchor="middle" textLength={len} lengthAdjust="spacingAndGlyphs"
      fontFamily={FONT} fontSize={size} fontWeight={weight || "normal"} fill="#111">{children}</text>
  );
}
const Sup = ({ children, after }: any) => (
  <>
    <tspan dy={-9} fontSize={17}>{children}</tspan>
    <tspan dy={9}>{after}</tspan>
  </>
);
const TitleCD38 = ({ x, y }: any) => (
  <V x={x} y={y} len={385} size={27}>CD38<Sup after="HLA-DR">hi</Sup><Sup after="CD19">hi</Sup><Sup after=" Cells">+</Sup></V>
);
const TitlePct = ({ x, y }: any) => (
  <V x={x} y={y} len={274} size={27}>(% of CD19<Sup after=" B cells)">+</Sup></V>
);
function Arrows({ x, y, top, right }: any) {
  return (
    <g fill="#000">
      <rect x={x - 2} y={top + 10} width={4} height={y - top - 8} />
      <rect x={x - 2} y={y - 2} width={right - x - 8} height={4} />
      <polygon points={`${x},${top} ${x - 7},${top + 14} ${x + 7},${top + 14}`} />
      <polygon points={`${right},${y} ${right - 14},${y - 7} ${right - 14},${y + 7}`} />
    </g>
  );
}
function Bar2({ x1, x2, y }: any) {
  return <line x1={x1} x2={x2} y1={y} y2={y} stroke="#111" strokeWidth={2.4} />;
}
const SPECK = [[1,0],[6,1],[12,0],[15,3],[3,3],[9,4],[13,6],[0,7],[6,7],[11,9],[3,10],[8,11],[15,11],[1,13],[6,14],[12,14],[17,8],[18,15]];
function Speck({ id, color, base, second, size }: any) {
  const s = size || 2;
  return (
    <pattern id={id} width={20} height={17} patternUnits="userSpaceOnUse">
      {base && <rect width={20} height={17} fill={base} />}
      {SPECK.map(([x, y], i) => (
        <rect key={i} x={x} y={y} width={s} height={s} fill={second && i % 4 === 0 ? second : color} />
      ))}
    </pattern>
  );
}

export default function App() {
  return (
    <div style={{ position: "absolute", left: 0, top: 0, width: 1960, height: 3198, background: "#fff", overflow: "hidden" }}>
      <svg width={0} height={0} style={{ position: "absolute" }}>
        <defs>
          <Speck id="spRed" color={C_RED} size={2.4} />
          <Speck id="spRedDense" color="#ffffff" base={C_RED} size={1.8} />
          <Speck id="spOr" color={C_ORANGE} size={2.4} />
          <Speck id="spBlue" color={C_BLUE} size={2.4} />
          <Speck id="spNavy" color={M_NAVY} size={2.4} />
          <Speck id="spCyan" color={M_CYAN} size={2.4} />
          <Speck id="spOlive" color={M_OLIVE} size={2.4} />
          <Speck id="spWhite" color="#ffffff" size={1.8} />
          <Speck id="mixDense" color="#ffffff" base={C_ORANGE} second="#df4a2a" size={1.3} />
          <Speck id="mixSparse" color={C_ORANGE} base="#f5822044" second="#e0452a" size={2.4} />
        </defs>
      </svg>

      {/* A: No flare */}
      <Crop x={0} y={0} w={1000} h={640} unitsX={1568}>
        {blob("a", a1Blue, C_BLUE)}{blob("b", a1BlueL, C_BLUE)}{blob("b2", a1BlueSp, "url(#spBlue)", "none")}{blob("c", a1RedS, "url(#spRed)", C_RED)}{blob("d", a1OrS, C_ORANGE)}{blob("e", a1Tail, C_BLUE)}
        {blob("f", a1Green, C_GREEN)}{blob("f2", a1GreenSp, "url(#spWhite)", "none")}{blob("g", a1Gran, C_PINK)}{blob("h", a1RedUp, C_RED)}{blob("i", a1RedSp, "url(#spRedDense)", C_RED)}{blob("i2", a1RedGap, "url(#spRed)", "none")}{blob("j", a1Gray, C_GRAY)}
        {blob("k", a1RedBig, C_RED)}{blob("l", a1RedLow, C_RED)}{blob("m", a1PinkT, C_PINK)}{blob("n", a1Or, C_ORANGE)}{blob("o", a1OrUp, "url(#spOr)", "none")}{blob("p", a1OrR, "url(#spOr)", C_ORANGE)}{blob("q", a1PinkLow, C_PINK)}
        {strays(a1Stray, "s")}
        {hull("h1", hullB1, "#d67db6")}{hull("h2", hullT1, "#3c2a7f")}{hull("h3", hullNK1, "#1fbcd2")}{hull("h4", hullG1, "#5e1045")}{hull("h5", hullM1, "#b9b92f")}
      </Crop>

      {/* A: Flared */}
      <Crop x={900} y={0} w={1000} h={700} unitsX={1568}>
        {blob("a", a2Blue, C_BLUE)}{blob("b", a2BlueL, C_BLUE)}{blob("c", a2BlueR, "url(#spBlue)", C_BLUE)}{blob("c2", a2BlueSp, "url(#spBlue)", "none")}{blob("d", a2RedS, C_RED)}{blob("e", a2PinkS, C_PINK)}{blob("f", a2OrS, C_ORANGE)}{blob("g", a2Tail, C_BLUE)}{blob("h", a2Brown, C_BROWN)}
        {blob("i", a2Green, C_GREEN)}{blob("i2", a2GreenSp, "url(#spWhite)", "none")}{blob("j", a2PinkThin, C_PINK)}{blob("k", a2Gran, C_PINK)}{blob("l", a2BrownS, C_BROWN)}{blob("m", a2RedUp, C_RED)}{blob("n", a2RedSp, "url(#spRedDense)", C_RED)}{blob("n2", a2RedGap, "url(#spRed)", "none")}{blob("o", a2Gray, C_GRAY)}
        {blob("p", a2RedBig, C_RED)}{blob("q", a2PinkT, C_PINK)}{blob("r", a2Or, C_ORANGE)}{blob("r2", a2OrTop, "url(#spWhite)", "none")}{blob("s", a2OrR, "url(#spOr)", C_ORANGE)}{blob("t", a2PinkLow, C_PINK)}
        {strays(a2Stray, "s")}
      </Crop>

      {/* A: flare group overlay + oligo flare */}
      <Crop x={0} y={660} w={1400} h={580} unitsX={2195.2}>
        {blob("a", lfMid, "url(#mixSparse)", "none")}{blob("b", lfB, "url(#mixDense)", C_ORANGE)}{blob("c", lfBL, "url(#mixDense)", C_ORANGE)}{blob("d", lfBR, "url(#mixSparse)", C_ORANGE)}{blob("e", lfBS, "url(#mixSparse)", C_ORANGE)}
        {blob("f", lfTUp, "url(#mixDense)", C_ORANGE)}{blob("g", lfTBig, "url(#mixDense)", C_ORANGE)}{blob("g2", lfTLow, "url(#mixDense)", C_ORANGE)}{blob("h", lfGran, C_ORANGE)}{blob("i", lfMono, C_ORANGE)}{blob("j", lfRight, "url(#mixSparse)", C_ORANGE)}{blob("k", lfSmall, C_ORANGE)}
        {blob("l", lfRed1, "#e0452a")}{blob("m", lfRed2, "#e0452a")}{blob("n", lfRed3, "#e0452a")}{blob("o", lfRed4, "#e0452a")}
        {strays(lfStray, "t")}
        {blob("p", mPink, M_PINK)}{blob("q", mPinkL, M_PINK)}{blob("r", mNavyS, M_NAVY)}{blob("s", mOliveS, M_OLIVE)}{blob("u", mTealS, M_TEAL)}{blob("v", mCyan, M_CYAN)}{blob("w", mGran, M_MAROON)}{blob("x", mTeal2, M_TEAL)}
        {blob("y", mOlive, M_OLIVE)}{blob("y2", mOliveTop, "url(#spWhite)", "none")}{blob("z", mOliveR, "url(#spOlive)", M_OLIVE)}{blob("aa", mMaroonS, M_MAROON)}{blob("ab", mNavyUp, M_NAVY)}{blob("ac", mNavyBig, M_NAVY)}{blob("ad", mNavyTail, M_NAVY)}{blob("af", mNavyGap, "url(#spNavy)", "none")}{blob("ae", mNavySpot, M_MAROON)}
        {strays(mStray, "m")}
        {hull("h1", hullBm, "#d67db6")}{hull("h2", hullTm, "#3c2a7f")}{hull("h3", hullNKm, "#1fbcd2")}{hull("h4", hullGm, "#5e1045")}{hull("h5", hullMm, "#b9b92f")}
      </Crop>

      {/* A: multiple flare */}
      <Crop x={1000} y={660} w={800} h={580} unitsX={1568}>
        {blob("a", a4Pink, M_PINK)}{blob("b", a4PinkL, M_PINK)}{blob("c", a4Maroon, M_MAROON)}{blob("d", a4NavyS, M_NAVY)}{blob("e", a4OliveS, M_OLIVE)}{blob("f", a4TealS, M_TEAL)}{blob("g", a4PinkTail, M_PINK)}
        {blob("h", a4Cyan, M_CYAN)}{blob("h2", a4CyanSp, "url(#spCyan)", "none")}{blob("i", a4MarThin, M_MAROON)}{blob("j", a4Gran, M_MAROON)}{blob("k", a4Teal, M_TEAL)}{blob("l", a4NavyUp, M_NAVY)}{blob("m", a4NavyBig, M_NAVY)}{blob("m2", a4NavyGap, "url(#spNavy)", "none")}{blob("n", a4MarSpot, M_MAROON)}
        {blob("o", a4Olive, M_OLIVE)}{blob("o2", a4OliveTop, "url(#spWhite)", "none")}{blob("p", a4OliveR, "url(#spOlive)", M_OLIVE)}{blob("q", a4MarLow, M_MAROON)}
        {strays(a4Stray, "s")}
      </Crop>

      {/* B */}
      <Network left={0} nodesX={noFlareX} nodesY={noFlareY} freq={noFlareFreq} labelX={noFlareLabelX} labelY={noFlareLabelY} edges={noFlareEdges} />
      <Network left={560} nodesX={oligoX} nodesY={oligoY} freq={oligoFreq} labelX={oligoLabelX} labelY={oligoLabelY} edges={oligoEdges} />
      <Network left={1160} nodesX={multiX} nodesY={multiY} freq={multiFreq} labelX={multiLabelX} labelY={multiLabelY} edges={multiEdges} />

      {/* C-H */}
      <ViolinPanel axisX={209} endX={682} topY={1975.5} botY={2447} cat1X={281} yMax={100} ticks={ticks100} dots={DOTS} series={[cControls,cNoFlare,cOligo,cMulti]} shapes={[cControlsShape,cNoFlareShape,cOligoShape,cMultiShape]} quarts={qC} />
      <ViolinPanel axisX={830.5} endX={1304} topY={1975.5} botY={2447} cat1X={903} yMax={100} ticks={ticks100} dots={DOTS} series={[nkControls,dNoFlare,dOligo,dMulti]} shapes={[nkControlsShape,dNoFlareShape,dOligoShape,dMultiShape]} quarts={qD} />
      <ViolinPanel axisX={1486} endX={1958} topY={1975.5} botY={2447} cat1X={1559} yMax={100} ticks={ticks100} dots={DOTS} series={[nkControls,eNoFlare,eOligo,eMulti]} shapes={[nkControlsShape,eNoFlareShape,eOligoShape,eMultiShape]} quarts={qE} />
      <ViolinPanel axisX={192.5} endX={666} topY={2550.4} botY={3023} cat1X={265} yMax={80} ticks={ticks80} showNames dots={DOTS} series={[fControls,fNoFlare,fOligo,fMulti]} shapes={[cControlsShape,fNoFlareShape,fOligoShape,fMultiShape]} quarts={qF} />
      <ViolinPanel axisX={829} endX={1303} topY={2550.4} botY={3023} cat1X={903} yMax={100} ticks={ticks100} showNames dots={DOTS} series={[nkControls,gNoFlare,gOligo,gMulti]} shapes={[nkControlsShape,gNoFlareShape,gOligoShape,gMultiShape]} quarts={qG} />
      <ViolinPanel axisX={1486} endX={1958} topY={2550.4} botY={3023} cat1X={1559} yMax={100} ticks={ticks100} showNames dots={DOTS} series={[nkControls,hNoFlare,hOligo,hMulti]} shapes={[nkControlsShape,hNoFlareShape,hOligoShape,hMultiShape]} quarts={qH} />

      <svg width={1960} height={3198} style={{ position: "absolute", left: 0, top: 0, pointerEvents: "none" }}>
        <defs>
          <linearGradient id="rscore" x1="0" x2="1" y1="0" y2="0">
            {colorbarStops.map((c, i) => <stop key={c} offset={i / (colorbarStops.length - 1)} stopColor={c} />)}
          </linearGradient>
        </defs>

        {/* panel letters */}
        <T x={15} y={43} w={35} size={48} weight="bold">A</T>
        <T x={17} y={1321} w={32} size={47} weight="bold">B</T>
        <T x={68} y={1961} w={31} size={46} weight="bold">C</T>
        <T x={702} y={1961} w={33} size={46} weight="bold">D</T>
        <T x={1253} y={2065} w={32} size={44} weight="bold">C</T>
        <T x={1361} y={1961} w={29} size={46} weight="bold">E</T>
        <T x={67.5} y={2535} w={27} size={46} weight="bold">F</T>
        <T x={698} y={2535} w={34} size={46} weight="bold">G</T>
        <T x={1355} y={2535} w={33} size={46} weight="bold">H</T>

        {/* A texts */}
        <T x={341} y={41} w={239} size={31} weight="bold" fill="#a9a9a9">No flare (n = 47)</T>
        <T x={1087} y={43} w={218} size={31} weight="bold">Flared (n = 37)</T>
        <T x={218} y={75} w={85} size={24} weight="bold">B cells</T>
        <T x={622} y={187} w={83} size={25} weight="bold">T cells</T>
        <T x={231} y={280} w={110} size={26} weight="bold">NK Cells</T>
        <T x={157} y={410} w={169} size={26} weight="bold">Granulocytes</T>
        <T x={523} y={500} w={135} size={26} weight="bold">Monocytes</T>
        <V x={209} y={516} len={73} size={19} weight="bold">UMAP2</V>
        <T x={226} y={575} w={74} size={20} weight="bold">UMAP1</T>
        <Arrows x={220} y={545} top={475} right={289} />

        <line x1={1200} x2={1200} y1={559} y2={679} stroke="#222" strokeWidth={3.5} />
        <polyline points="75,695 75,679 1684,679 1684,695" fill="none" stroke="#222" strokeWidth={3.5} />

        <V x={17} y={1116} len={66} size={19} weight="bold">UMAP2</V>
        <T x={32} y={1169} w={65} size={19} weight="bold">UMAP1</T>
        <Arrows x={27} y={1145} top={1082} right={88} />
        <rect x={100} y={1170} width={30} height={16} fill={C_RED} />
        <rect x={100} y={1192} width={30} height={15} fill={C_ORANGE} />
        <T x={137} y={1185} w={266} size={19} fill="#333">flaregroup: multiple flares  (8)</T>
        <T x={137} y={1206} w={238} size={19} fill="#333">flaregroup: oligo flare  (13)</T>

        <T x={686} y={712} w={74} size={22} weight="bold">B cells</T>
        <T x={1060} y={821} w={74} size={22} weight="bold">T cells</T>
        <T x={698} y={911} w={96} size={23} weight="bold">NK Cells</T>
        <T x={630} y={1038} w={149} size={23} weight="bold">Granulocytes</T>
        <T x={982} y={1124} w={119} size={22} weight="bold">Monocytes</T>
        <V x={712} y={1134} len={64} size={18} weight="bold">UMAP2</V>
        <T x={728} y={1187} w={65} size={19} weight="bold">UMAP1</T>
        <Arrows x={722.5} y={1161} top={1098} right={785} />
        <T x={832} y={1169} w={139} size={27} weight="bold">Oligo flare</T>
        <T x={851} y={1202} w={99} size={27} weight="bold">(n = 23)</T>
        <T x={1382} y={1168} w={172} size={27} weight="bold">Multiple flare</T>
        <T x={1418} y={1202} w={98} size={27} weight="bold">(n = 14)</T>

        {/* B texts */}
        <T x={254} y={1301} w={101} size={26}>No Flare</T>
        <T x={817} y={1301} w={129} size={26}>Oligo Flare</T>
        <T x={1363} y={1301} w={149} size={26}>Multiple flare</T>
        <T x={729} y={1834} w={46} size={16} fill="#333">r score</T>
        <T x={600} y={1856} w={18} size={17} fill="#222">−1</T>
        <rect x={627} y={1842} width={236} height={16} fill="url(#rscore)" />
        <text x={872} y={1856} fontFamily={FONT} fontSize={17} fill="#222">1</text>
        <T x={1000} y={1830} w={111} size={16} fill="#333">Cell frequencies</T>
        <T x={950} y={1856} w={20} size={16} fill="#222">1%</T>
        <circle cx={984} cy={1851} r={1.2} fill="#777" />
        <circle cx={1016} cy={1851} r={4} fill="#d3d3d3" stroke="#333" strokeWidth={1.2} />
        <circle cx={1048} cy={1851} r={6.5} fill="#d3d3d3" stroke="#444" strokeWidth={1} />
        <circle cx={1079} cy={1851} r={9} fill="#d3d3d3" stroke="#444" strokeWidth={1} />
        <circle cx={1114} cy={1851} r={13.5} fill="#d3d3d3" stroke="#444" strokeWidth={1} />
        <T x={1139} y={1856} w={37} size={16} fill="#222">&gt;20%</T>

        {/* y titles */}
        <TitleCD38 x={98} y={2205} /><TitlePct x={140} y={2205} />
        <V x={726} y={2205} len={190} size={27}>Early NK Cells</V><V x={759} y={2205} len={226} size={27}>(% of NK B cells)</V>
        <V x={1382} y={2205} len={181} size={27}>Late NK Cells</V><V x={1415} y={2205} len={226} size={27}>(% of NK B cells)</V>
        <TitleCD38 x={99} y={2781} /><TitlePct x={140} y={2781} />
        <V x={726} y={2781} len={190} size={27}>Early NK Cells</V><V x={759} y={2781} len={224} size={27}>(% of NK B cells)</V>
        <V x={1382} y={2781} len={181} size={27}>Late NK Cells</V><V x={1417} y={2781} len={224} size={27}>(% of NK B cells)</V>

        {/* q values */}
        <Bar2 x1={282} x2={608} y={1933.5} /><T x={383} y={1922} w={125} size={26}>q = 0.0247</T>
        <Bar2 x1={391.5} x2={608} y={1990} /><T x={437} y={1979} w={125} size={26}>q = 0.0247</T>
        <Bar2 x1={491} x2={611} y={2039} /><T x={503} y={2025} w={96} size={26}>q = 0.05</T>
        <Bar2 x1={903} x2={1230} y={1953} /><T x={1004} y={1941} w={125} size={26}>q = 0.0023</T>
        <Bar2 x1={1012} x2={1230} y={2008} /><T x={1059} y={1997} w={124} size={26}>q = 0.0121</T>
        <Bar2 x1={1109.5} x2={1234} y={2059} /><T x={1124} y={2045} w={96} size={26}>q = 0.05</T>
        <Bar2 x1={1559} x2={1777} y={1953} /><T x={1606} y={1941} w={123} size={26}>q = 0.0001</T>
        <Bar2 x1={1559} x2={1668} y={2008} /><T x={1551} y={1997} w={124} size={26}>q &lt; 0.0001</T>
        <Bar2 x1={370} x2={597} y={2588.5} /><T x={421} y={2576} w={126} size={26}>q = 0.0417</T>
        <Bar2 x1={374} x2={482.5} y={2639} /><T x={366} y={2628} w={126} size={26}>q = 0.0417</T>
        <Bar2 x1={903} x2={1230} y={2548} /><T x={1004} y={2537} w={126} size={26}>q = 0.0062</T>
        <Bar2 x1={1012.5} x2={1230} y={2603.5} /><T x={1058} y={2593} w={127} size={26}>q = 0.0362</T>
        <Bar2 x1={1559} x2={1777} y={2508} /><T x={1605} y={2497} w={127} size={26}>q = 0.0009</T>
        <Bar2 x1={1559} x2={1667.5} y={2564.5} /><T x={1551} y={2554} w={124} size={26}>q &lt; 0.0001</T>
        <Bar2 x1={1672} x2={1919} y={2564.5} /><T x={1747} y={2551} w={97} size={26}>q = 0.05</T>
      </svg>
    </div>
  );
}
